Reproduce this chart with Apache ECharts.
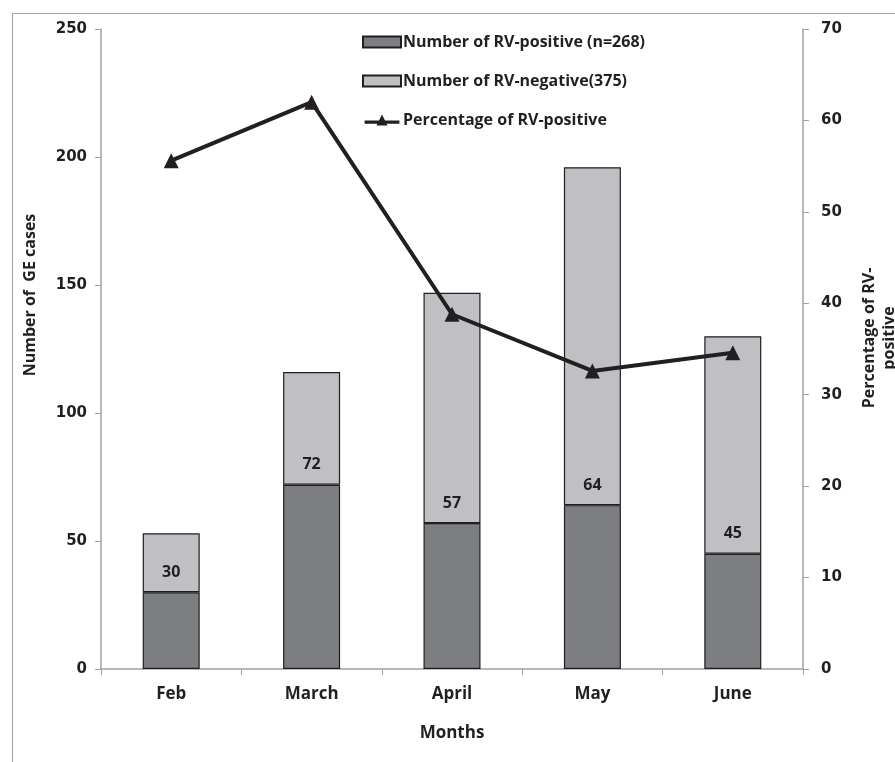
<!DOCTYPE html>
<html><head><meta charset="utf-8">
<script src="https://cdn.jsdelivr.net/npm/echarts@6/dist/echarts.min.js"></script>
<style>html,body{margin:0;padding:0;background:#fff}#c{width:895px;height:762px}</style>
</head><body><div id="c"></div>
<script>
const months = ['Feb', 'March', 'April', 'May', 'June'];
const rvPositive = [30, 72, 57, 64, 45];
const rvNegative = [23, 44, 90, 132, 85];
const pctPositive = [55.6, 62.0, 38.8, 32.6, 34.6];
const leftTicks = {min: 0, max: 250, interval: 50};
const rightTicks = {min: 0, max: 70, interval: 10};

const chart = echarts.init(document.getElementById('c'), null, {renderer: 'canvas'});
const numFont = {fontFamily: 'DejaVu Sans', fontWeight: 'bold', fontSize: 15, color: '#231f20'};
const txtFont = {fontFamily: 'Open Sans', fontWeight: 'bold', fontSize: 17, color: '#231f20'};
const axisGrey = '#a0a0a0';

chart.setOption({
  animation: false,
  backgroundColor: '#fff',
  grid: {left: 101, right: 92, top: 29, bottom: 93},
  legend: {
    orient: 'vertical', left: 357, top: 26, itemGap: 17, itemWidth: 38, itemHeight: 11,
    textStyle: {fontFamily: 'Open Sans', fontWeight: 'bold', fontSize: 16, color: '#231f20',
                lineHeight: 22, padding: [0, 0, 0, -3]},
    data: [
      {name: 'Number of RV-positive (n=268)', icon: 'rect'},
      {name: 'Number of RV-negative(375)', icon: 'rect'},
      {name: 'Percentage of RV-positive',
       icon: 'path://M0,7.5h38v3.5h-38z M13,13 L19,1 L25,13 z',
       itemStyle: {color: '#231f20', borderWidth: 0}}
    ]
  },
  xAxis: {
    type: 'category', data: months, boundaryGap: true,
    axisLine: {lineStyle: {color: axisGrey, width: 1.5}},
    axisTick: {show: true, length: 6, lineStyle: {color: axisGrey}},
    axisLabel: Object.assign({}, txtFont, {margin: 17}),
    name: 'Months', nameLocation: 'middle', nameGap: 56, nameTextStyle: txtFont
  },
  yAxis: [
    {
      type: 'value', min: leftTicks.min, max: leftTicks.max, interval: leftTicks.interval,
      splitLine: {show: false},
      axisLine: {show: true, lineStyle: {color: axisGrey, width: 1.5}},
      axisTick: {show: true, length: 6, lineStyle: {color: axisGrey}},
      axisLabel: Object.assign({}, numFont, {margin: 14})
    },
    {
      type: 'value', min: rightTicks.min, max: rightTicks.max, interval: rightTicks.interval,
      splitLine: {show: false}, offset: 0,
      axisLine: {show: true, lineStyle: {color: axisGrey, width: 1.5}},
      axisTick: {show: true, length: 6, lineStyle: {color: axisGrey}},
      axisLabel: Object.assign({}, numFont, {margin: 18})
    }
  ],
  series: [
    {
      name: 'Number of RV-positive (n=268)', type: 'bar', stack: 'total', barWidth: 57,
      data: rvPositive,
      itemStyle: {color: '#7d7e82', borderColor: '#1f1f1f', borderWidth: 1.2}
    },
    {
      name: 'Number of RV-negative(375)', type: 'bar', stack: 'total', barWidth: 57,
      data: rvNegative,
      itemStyle: {color: '#c0c0c4', borderColor: '#1f1f1f', borderWidth: 1.2},
      label: {
        show: true, position: 'insideBottom', distance: 12,
        formatter: p => String(rvPositive[p.dataIndex]),
        fontFamily: 'Open Sans', fontWeight: 'bold', fontSize: 16, color: '#231f20'
      }
    },
    {
      name: 'Percentage of RV-positive', type: 'line', yAxisIndex: 1,
      data: pctPositive,
      symbol: 'triangle', symbolSize: 15,
      lineStyle: {color: '#231f20', width: 4},
      itemStyle: {color: '#231f20'}
    }
  ],
  graphic: [
    {type: 'rect', left: 10, top: 11, shape: {width: 900, height: 800},
     style: {fill: 'none', stroke: '#a8a8a8', lineWidth: 1.2}, z: 100, silent: true},
    {type: 'text', x: 30, y: 295, rotation: Math.PI / 2, z: 100,
     style: {text: 'Number of  GE cases', font: 'bold 16px "Open Sans"', fill: '#231f20',
             textAlign: 'center', textVerticalAlign: 'middle'}},
    {type: 'text', x: 869, y: 338, rotation: Math.PI / 2, z: 100,
     style: {text: 'Percentage of RV-', font: 'bold 16px "Open Sans"', fill: '#231f20',
             textAlign: 'center', textVerticalAlign: 'middle'}},
    {type: 'text', x: 889, y: 338, rotation: Math.PI / 2, z: 100,
     style: {text: 'positive', font: 'bold 16px "Open Sans"', fill: '#231f20',
             textAlign: 'center', textVerticalAlign: 'middle'}}
  ]
});
</script></body></html>
